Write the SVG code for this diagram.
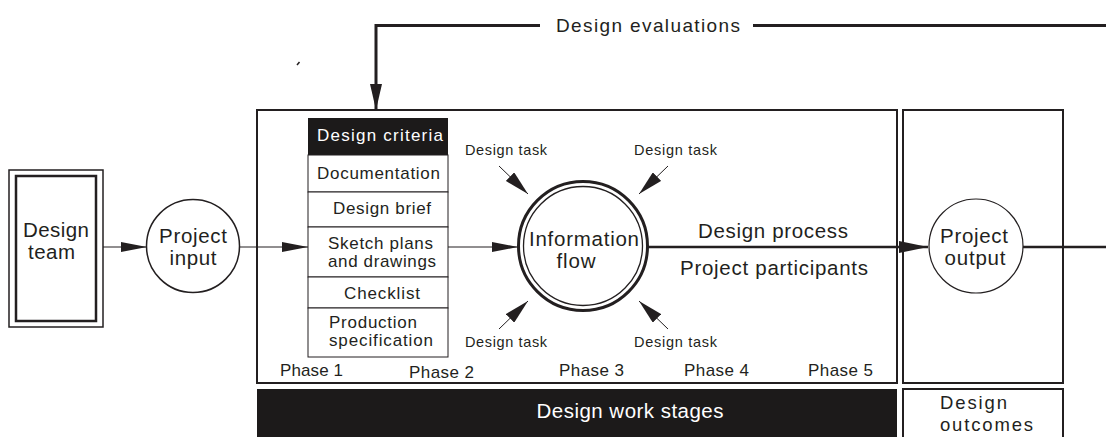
<svg xmlns="http://www.w3.org/2000/svg" width="1106" height="437" viewBox="0 0 1106 437">
<style>
text{font-family:"Liberation Sans",Arial,sans-serif;fill:#231f20}
.t18{font-size:20.5px}
.t17{font-size:19px}
.t16{font-size:18.5px}
.t15{font-size:17px}
.t13{font-size:14.5px}
.w{fill:#ffffff}
.box{fill:none;stroke:#231f20;stroke-width:2}
.thin{fill:none;stroke:#231f20;stroke-width:1}
.thick{fill:none;stroke:#231f20;stroke-width:2.5}
.row{fill:#ffffff;stroke:#231f20;stroke-width:1}
</style>
<defs>
<marker id="ah" markerUnits="userSpaceOnUse" markerWidth="26" markerHeight="10" refX="26" refY="5" orient="auto"><path d="M0,0 L26,5 L0,10 z" fill="#231f20"/></marker>
<marker id="ahb" markerUnits="userSpaceOnUse" markerWidth="29" markerHeight="12" refX="29" refY="6" orient="auto"><path d="M0,0 L29,6 L0,12 z" fill="#231f20"/></marker>
<marker id="ahe" markerUnits="userSpaceOnUse" markerWidth="26" markerHeight="12" refX="26" refY="6" orient="auto"><path d="M0,0 L26,6 L0,12 z" fill="#231f20"/></marker>
<marker id="aht" markerUnits="userSpaceOnUse" markerWidth="25" markerHeight="12" refX="25" refY="6" orient="auto"><path d="M0,0 L25,6 L0,12 z" fill="#231f20"/></marker>
</defs>

<g id="stage-frame">
<rect class="box" x="257" y="110" width="640" height="273"/>
<rect x="257" y="389" width="640" height="50" fill="#1c1a1a"/>
<text class="t18 w" x="630" y="418" text-anchor="middle" textLength="187" lengthAdjust="spacing">Design work stages</text>
<text class="t15" x="280" y="376" textLength="63" lengthAdjust="spacing">Phase 1</text>
<text class="t15" x="409" y="378" textLength="65" lengthAdjust="spacing">Phase 2</text>
<text class="t15" x="559" y="376" textLength="65" lengthAdjust="spacing">Phase 3</text>
<text class="t15" x="684" y="376" textLength="65" lengthAdjust="spacing">Phase 4</text>
<text class="t15" x="808" y="376" textLength="65" lengthAdjust="spacing">Phase 5</text>
</g>

<g id="outcome-frame">
<rect class="box" x="903" y="110" width="160" height="273"/>
<rect class="box" x="903" y="389" width="160" height="50"/>
<text class="t16" x="940" y="409" textLength="67" lengthAdjust="spacing">Design</text>
<text class="t16" x="940" y="431" textLength="93" lengthAdjust="spacing">outcomes</text>
</g>

<g id="design-team">
<rect fill="none" stroke="#231f20" stroke-width="1.5" x="9" y="170" width="94" height="157"/>
<rect fill="none" stroke="#231f20" stroke-width="2.5" x="16" y="176" width="80" height="145"/>
<text class="t18" x="23" y="237" textLength="66" lengthAdjust="spacing">Design</text>
<text class="t18" x="28" y="259" textLength="47" lengthAdjust="spacing">team</text>
</g>

<g id="project-input">
<circle cx="193" cy="246" r="46.5" fill="#ffffff" stroke="#231f20" stroke-width="1.5"/>
<text class="t18" x="193" y="243" text-anchor="middle" textLength="68" lengthAdjust="spacing">Project</text>
<text class="t18" x="193" y="265" text-anchor="middle" textLength="47" lengthAdjust="spacing">input</text>
</g>

<g id="document-list">
<rect x="308" y="118" width="140" height="37" fill="#1c1a1a"/>
<text class="t15 w" x="317" y="141" textLength="126" lengthAdjust="spacing">Design criteria</text>
<rect class="row" x="308" y="155" width="140" height="37"/>
<text class="t15" x="317" y="179" textLength="123" lengthAdjust="spacing">Documentation</text>
<rect class="row" x="308" y="192" width="140" height="35"/>
<text class="t15" x="333" y="214" textLength="98" lengthAdjust="spacing">Design brief</text>
<rect class="row" x="308" y="227" width="140" height="50"/>
<text class="t15" x="328" y="249" textLength="105" lengthAdjust="spacing">Sketch plans</text>
<text class="t15" x="328" y="267" textLength="108" lengthAdjust="spacing">and drawings</text>
<rect class="row" x="308" y="277" width="140" height="31"/>
<text class="t15" x="344" y="299" textLength="76" lengthAdjust="spacing">Checklist</text>
<rect class="row" x="308" y="308" width="140" height="49"/>
<text class="t15" x="329" y="328" textLength="88" lengthAdjust="spacing">Production</text>
<text class="t15" x="329" y="346" textLength="104" lengthAdjust="spacing">specification</text>
</g>

<g id="information-flow">
<circle cx="583" cy="246" r="64.5" fill="#ffffff" stroke="#231f20" stroke-width="3"/>
<circle cx="583" cy="246" r="59.5" fill="none" stroke="#231f20" stroke-width="1.3"/>
<text class="t18" x="584" y="246" text-anchor="middle" textLength="110" lengthAdjust="spacing">Information</text>
<text class="t18" x="576" y="268" text-anchor="middle" textLength="39" lengthAdjust="spacing">flow</text>
</g>

<g id="design-tasks">
<text class="t13" x="465" y="155" textLength="82" lengthAdjust="spacing">Design task</text>
<text class="t13" x="634" y="155" textLength="83" lengthAdjust="spacing">Design task</text>
<text class="t13" x="465" y="347" textLength="82" lengthAdjust="spacing">Design task</text>
<text class="t13" x="634" y="347" textLength="83" lengthAdjust="spacing">Design task</text>
</g>

<g id="project-output">
<circle cx="976" cy="246" r="47" fill="#ffffff" stroke="#231f20" stroke-width="1.2"/>
<text class="t18" x="974" y="243" text-anchor="middle" textLength="68" lengthAdjust="spacing">Project</text>
<text class="t18" x="975" y="265" text-anchor="middle" textLength="61" lengthAdjust="spacing">output</text>
</g>

<g id="process-labels">
<text class="t18" x="773" y="238" text-anchor="middle" textLength="150" lengthAdjust="spacing">Design process</text>
<text class="t18" x="774" y="275" text-anchor="middle" textLength="188" lengthAdjust="spacing">Project participants</text>
</g>

<g id="evaluations-label">
<text class="t17" x="556" y="32" textLength="184" lengthAdjust="spacing">Design evaluations</text>
</g>

<g id="connectors">
<path class="thin" d="M103,247 H147" marker-end="url(#ah)"/>
<path class="thin" d="M239.5,247 H308" marker-end="url(#ah)"/>
<path class="thin" d="M448,247 H518" marker-end="url(#ah)"/>
<path class="thick" d="M647.5,247 H928" marker-end="url(#ahb)"/>
<path class="thick" d="M1023,247 H1106"/>
<path fill="none" stroke="#231f20" stroke-width="3" d="M1106,25.5 H753"/>
<path fill="none" stroke="#231f20" stroke-width="3" d="M540,25.5 H376 V110" marker-end="url(#ahe)"/>
<path class="thin" d="M499,166 L528,194" marker-end="url(#aht)"/>
<path class="thin" d="M668,166 L639,194" marker-end="url(#aht)"/>
<path class="thin" d="M499,329 L528,301" marker-end="url(#aht)"/>
<path class="thin" d="M668,329 L639,301" marker-end="url(#aht)"/>
<path fill="none" stroke="#231f20" stroke-width="1.5" d="M297,65 L299.5,62"/>
</g>
</svg>
